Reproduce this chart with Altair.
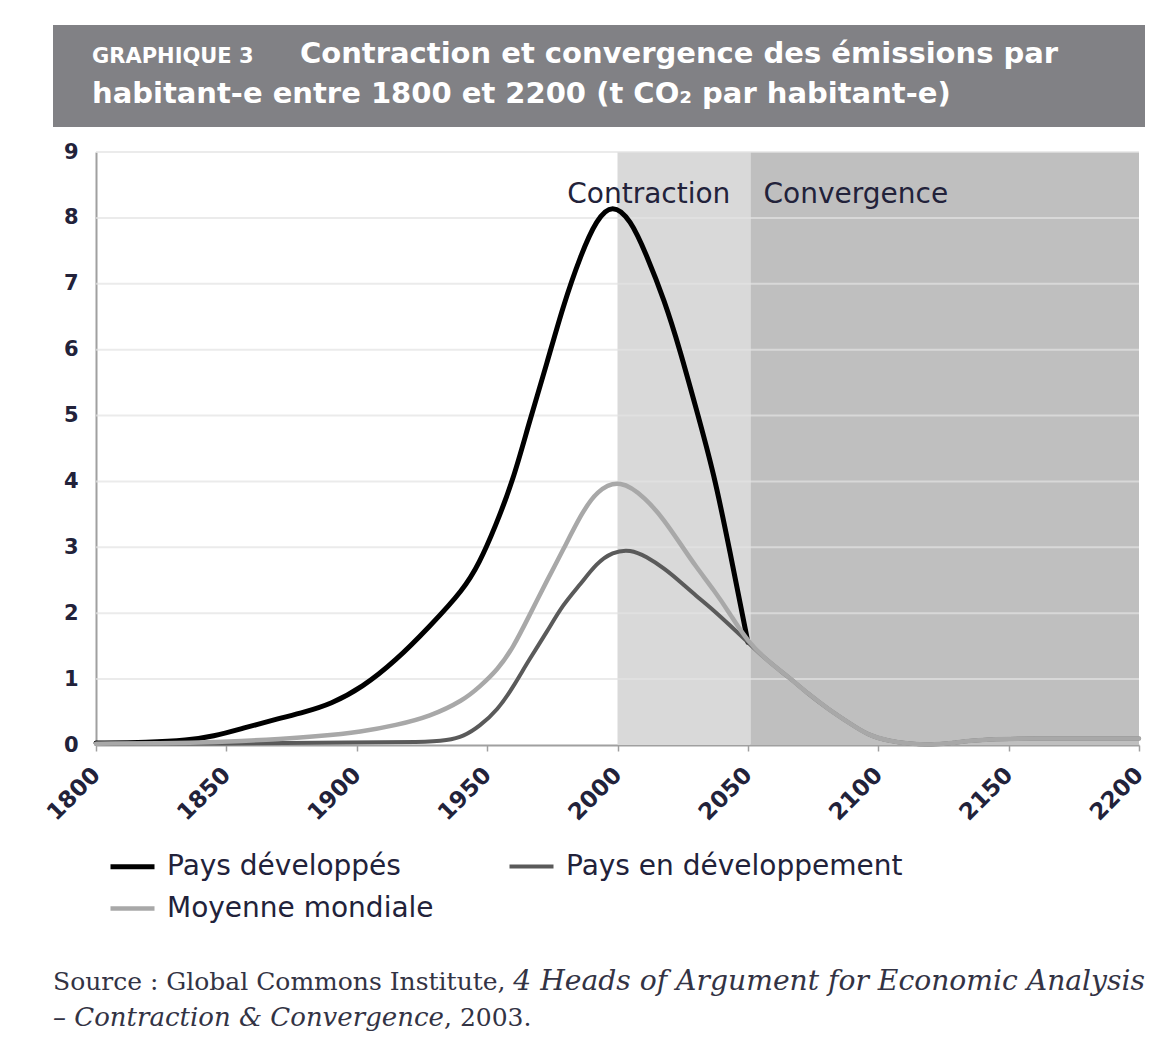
import altair as alt
import pandas as pd

# ---------------- data ----------------
series_names = ["Pays développés", "Moyenne mondiale", "Pays en développement"]
series_colors = ["#000000", "#a8a8a8", "#5a5a5a"]
series_widths = [5, 4, 5]

dev_years = [1800, 1820, 1835, 1845, 1856, 1870, 1880, 1890, 1902, 1915, 1928, 1941, 1947,
             1953, 1960, 1966, 1973, 1979, 1986, 1992, 1998, 2005, 2011, 2018, 2024, 2030,
             2037, 2043, 2050]
dev_values = [0.03, 0.04, 0.07, 0.13, 0.25, 0.4, 0.5, 0.62, 0.87, 1.28, 1.8, 2.36, 2.76,
              3.3, 4.02, 4.88, 5.8, 6.65, 7.45, 7.98, 8.22, 7.98, 7.45, 6.75, 5.99, 5.13,
              4.12, 2.96, 1.56]

pvd_years = [1800, 1850, 1900, 1925, 1935, 1941, 1947, 1954, 1960, 1966, 1973, 1979, 1986,
             1992, 1998, 2005, 2011, 2018, 2024, 2030, 2037, 2043, 2050]
pvd_values = [0.02, 0.02, 0.04, 0.04, 0.07, 0.13, 0.28, 0.53, 0.88, 1.29, 1.72, 2.13, 2.45,
              2.76, 2.93, 2.97, 2.86, 2.68, 2.48, 2.27, 2.04, 1.82, 1.56]

mm_years = [1800, 1840, 1856, 1870, 1885, 1902, 1915, 1928, 1941, 1947, 1954, 1960, 1966,
            1973, 1979, 1986, 1992, 2001, 2011, 2018, 2024, 2030, 2037, 2043, 2050]
mm_values = [0.02, 0.03, 0.06, 0.09, 0.13, 0.2, 0.3, 0.43, 0.68, 0.88, 1.14, 1.48, 1.95,
             2.5, 2.95, 3.5, 3.86, 4.04, 3.74, 3.41, 3.06, 2.71, 2.35, 2.0, 1.56]

conv_years = [2058, 2066, 2073, 2081, 2089, 2096, 2104, 2112, 2120, 2128, 2142, 2160, 2180, 2200]
conv_values = [1.26, 1.02, 0.78, 0.54, 0.33, 0.15, 0.06, 0.02, 0.0, 0.03, 0.09, 0.1, 0.1, 0.1]

x_ticks = [1800, 1850, 1900, 1950, 2000, 2050, 2100, 2150, 2200]
y_ticks = [0, 1, 2, 3, 4, 5, 6, 7, 8, 9]

phase_names = ["Contraction", "Convergence"]
phase_start = [2000, 2051]
phase_end = [2051, 2200]
phase_colors = ["#d9d9d9", "#bfbfbf"]
phase_label_x = [2012, 2056]
phase_label_y = [8.22, 8.22]

title_tag = "GRAPHIQUE 3"
title_line1 = "Contraction et convergence des émissions par"
title_line2 = "habitant-e entre 1800 et 2200 (t CO₂ par habitant-e)"
source_a = "Source : Global Commons Institute, "
source_b = "4 Heads of Argument for Economic Analysis"
source_c = "– Contraction & Convergence"
source_d = ", 2003."

# ---------------- tables ----------------
rows = []
for y, v in zip(dev_years, dev_values):
    rows.append({"serie": "Pays développés", "annee": y, "valeur": v})
for y, v in zip(pvd_years + conv_years, pvd_values + conv_values):
    rows.append({"serie": "Pays en développement", "annee": y, "valeur": v})
for y, v in zip(mm_years + conv_years, mm_values + conv_values):
    rows.append({"serie": "Moyenne mondiale", "annee": y, "valeur": v})
lines_df = pd.DataFrame(rows)

phases_df = pd.DataFrame({"phase": phase_names, "start": phase_start, "end": phase_end,
                          "y0": [0, 0], "y1": [9, 9], "col": phase_colors,
                          "lx": phase_label_x, "ly": phase_label_y})
grid_df = pd.DataFrame({"v": y_ticks[1:]})
one = pd.DataFrame({"a": [0]})

W, H = 1043, 593
xscale = alt.Scale(domain=[1800, 2200], nice=False, zero=False)
yscale = alt.Scale(domain=[0, 9], nice=False)

FONT = "DejaVu Sans"
SERIF = "DejaVu Serif"
TXT = "#22223a"

shade = alt.Chart(phases_df).mark_rect().encode(
    x=alt.X("start:Q", scale=xscale,
            axis=alt.Axis(values=x_ticks, format="d", labelAngle=-45, labelAlign="right",
                          labelBaseline="middle", labelPadding=20,
                          labelFont=FONT, labelFontWeight="bold", labelFontSize=23,
                          labelColor=TXT, labelOverlap=False, labelBound=False,
                          tickSize=6, tickColor="#a0a0a0", tickWidth=1.5,
                          domainColor="#a0a0a0", domainWidth=2, grid=False, title=None)),
    x2="end:Q",
    y=alt.Y("y0:Q", scale=yscale,
            axis=alt.Axis(values=y_ticks, format="d", labelFont=FONT, labelFontWeight="bold",
                          labelFontSize=21, labelColor=TXT, tickSize=0, labelPadding=18,
                          domainColor="#a0a0a0", domainWidth=2, grid=False, title=None)),
    y2="y1:Q",
    color=alt.Color("col:N", scale=None),
)

grid = alt.Chart(grid_df).mark_rule(color="#e2e2e2", strokeWidth=2, opacity=0.7).encode(
    y=alt.Y("v:Q", scale=yscale),
    x=alt.value(0), x2=alt.value(W),
)

lines = alt.Chart(lines_df).mark_line(interpolate="basis", strokeCap="round",
                                      strokeJoin="round").encode(
    x=alt.X("annee:Q", scale=xscale),
    y=alt.Y("valeur:Q", scale=yscale),
    color=alt.Color("serie:N",
                    scale=alt.Scale(domain=series_names, range=series_colors),
                    legend=alt.Legend(title=None, orient="none", legendX=12, legendY=690,
                                      columns=2, columnPadding=67, rowPadding=3,
                                      symbolType="stroke", symbolSize=1936,
                                      symbolStrokeWidth=6, labelOffset=10,
                                      labelFont=FONT, labelFontSize=28, labelColor=TXT,
                                      labelLimit=500)),
    strokeWidth=alt.StrokeWidth("serie:N",
                                scale=alt.Scale(domain=series_names, range=series_widths),
                                legend=None),
    order=alt.Order("annee:Q"),
)

lab_c = alt.Chart(phases_df[phases_df.phase == phase_names[0]]).mark_text(
    font=FONT, fontSize=28, color=TXT, baseline="alphabetic", align="center").encode(
    x=alt.X("lx:Q", scale=xscale), y=alt.Y("ly:Q", scale=yscale), text="phase:N")
lab_v = alt.Chart(phases_df[phases_df.phase == phase_names[1]]).mark_text(
    font=FONT, fontSize=28, color=TXT, baseline="alphabetic", align="left").encode(
    x=alt.X("lx:Q", scale=xscale), y=alt.Y("ly:Q", scale=yscale), text="phase:N")

banner = alt.Chart(one).mark_rect(color="#818185").encode(
    x=alt.value(-43), x2=alt.value(1049), y=alt.value(-127), y2=alt.value(-25))

def txt(s, x, y, size, font=FONT, weight="normal", style="normal", color="white", align="left"):
    return alt.Chart(one).mark_text(text=s, font=font, fontSize=size, fontWeight=weight,
                                    fontStyle=style, color=color, align=align,
                                    baseline="alphabetic").encode(
        x=alt.value(x), y=alt.value(y))

t_tag = txt(title_tag, -4, -89, 21, weight="bold")
t_l1 = txt(title_line1, 204, -89, 29, weight="bold")
t_l2 = txt(title_line2, -4, -49, 29, weight="bold")

SRC = "#333344"
s_a = txt(source_a, -43, 838, 25, font=SERIF, color=SRC)
s_b = txt(source_b, 1049, 838, 28.2, font=SERIF, style="italic", color=SRC, align="right")
s_c = txt(source_c, -43, 874, 26, font=SERIF, style="italic", color=SRC)
s_d = txt(source_d, 348, 874, 25, font=SERIF, color=SRC)

chart = alt.layer(
    shade, grid, lines, lab_c, lab_v, banner, t_tag, t_l1, t_l2, s_a, s_b, s_c, s_d
).properties(
    width=W, height=H,
    autosize=alt.AutoSizeParams(type="none"),
    padding={"left": 88, "top": 144, "right": 20, "bottom": 290},
    background="white",
).configure_view(stroke=None)

chart.save("out.html", embed_options={"renderer": "svg", "actions": False})
